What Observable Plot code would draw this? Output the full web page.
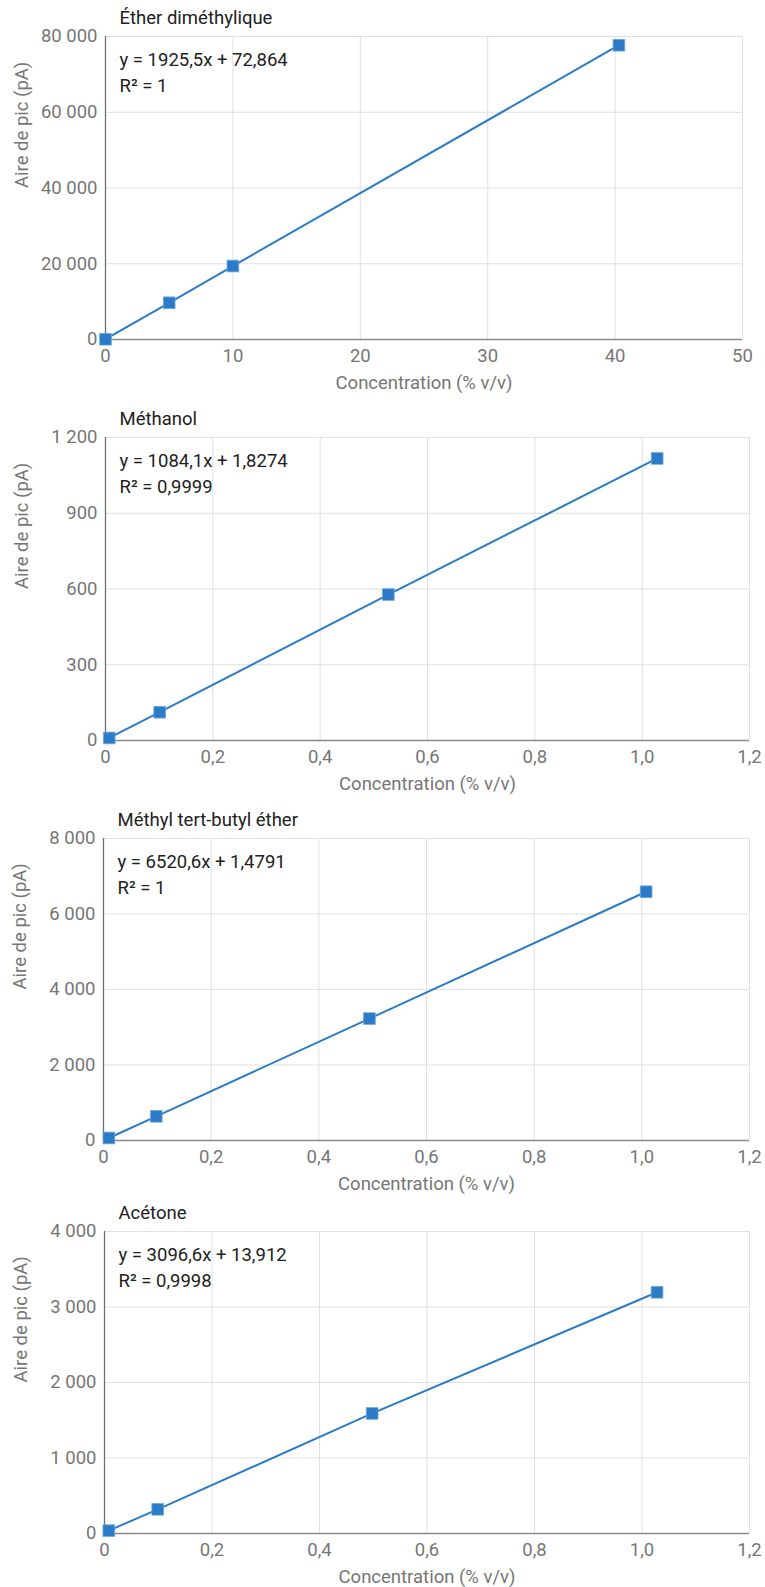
<!DOCTYPE html>
<html>
<head>
<meta charset="utf-8">
<script src="https://cdn.jsdelivr.net/npm/d3@7"></script>
<script src="https://cdn.jsdelivr.net/npm/@observablehq/plot@0.6"></script>
<style>
  html, body { margin: 0; padding: 0; background: #ffffff; }
  #charts svg { display: block; }
</style>
</head>
<body>
<div id="charts"></div>
<script>
// ---- Data ----
const titles = ["Éther diméthylique", "Méthanol", "Méthyl tert-butyl éther", "Acétone"];
const equations = ["y = 1925,5x + 72,864", "y = 1084,1x + 1,8274", "y = 6520,6x + 1,4791", "y = 3096,6x + 13,912"];
const r2Labels = ["R² = 1", "R² = 0,9999", "R² = 1", "R² = 0,9998"];
const xAxisLabel = "Concentration (% v/v)";
const yAxisLabel = "Aire de pic (pA)";

const dmeConc = [0, 5, 10, 40.3];
const dmeArea = [70, 9700, 19400, 77700];
const methanolConc = [0.007, 0.101, 0.527, 1.028];
const methanolArea = [10, 112, 578, 1117];
const mtbeConc = [0.01, 0.098, 0.494, 1.008];
const mtbeArea = [66, 640, 3230, 6590];
const acetoneConc = [0.008, 0.099, 0.498, 1.028];
const acetoneArea = [38, 320, 1590, 3195];

const xTicksDme = [0, 10, 20, 30, 40, 50];
const xTicksFrac = [0, 0.2, 0.4, 0.6, 0.8, 1.0, 1.2];
const yTicksDme = [0, 20000, 40000, 60000, 80000];
const yTicksMethanol = [0, 300, 600, 900, 1200];
const yTicksMtbe = [0, 2000, 4000, 6000, 8000];
const yTicksAcetone = [0, 1000, 2000, 3000, 4000];

// ---- Layout / style ----
const locale = d3.formatLocale({decimal: ",", thousands: " ", grouping: [3], currency: ["", ""]});
const fmtInt = locale.format(",d");
const fmtDec1 = locale.format(".1f");
const fmtDec = d => (d === 0 ? "0" : fmtDec1(d));

const series = [
  {x: dmeConc, y: dmeArea, xTicks: xTicksDme, yTicks: yTicksDme, xFmt: fmtInt},
  {x: methanolConc, y: methanolArea, xTicks: xTicksFrac, yTicks: yTicksMethanol, xFmt: fmtDec},
  {x: mtbeConc, y: mtbeArea, xTicks: xTicksFrac, yTicks: yTicksMtbe, xFmt: fmtDec},
  {x: acetoneConc, y: acetoneArea, xTicks: xTicksFrac, yTicks: yTicksAcetone, xFmt: fmtDec}
];
const layouts = [
  {height: 398, top: 36, bottom: 59, left: 105, right: 23},
  {height: 397, top: 39, bottom: 55, left: 105, right: 16},
  {height: 395, top: 43, bottom: 50, left: 103, right: 16},
  {height: 397, top: 41, bottom: 54, left: 104, right: 16}
];

const blue = "#2b7bc6";
const gridColor = "#e0e0e0";
const tickColor = "#767676";
const fs = 18.5;

const container = document.getElementById("charts");
series.forEach((s, i) => {
  const L = layouts[i];
  const data = s.x.map((xv, j) => ({x: xv, y: s.y[j]}));
  const xDom = [s.xTicks[0], s.xTicks[s.xTicks.length - 1]];
  const yDom = [s.yTicks[0], s.yTicks[s.yTicks.length - 1]];
  const chart = Plot.plot({
    width: 765,
    height: L.height,
    marginTop: L.top,
    marginBottom: L.bottom,
    marginLeft: L.left,
    marginRight: L.right,
    style: {fontFamily: "Roboto, sans-serif", fontSize: fs + "px", color: tickColor, background: "#ffffff", overflow: "visible"},
    x: {domain: xDom, ticks: s.xTicks, tickFormat: s.xFmt, tickSize: 0, tickPadding: 9, label: null},
    y: {domain: yDom, ticks: s.yTicks, tickFormat: fmtInt, tickSize: 0, tickPadding: 8, label: null},
    marks: [
      Plot.ruleX(s.xTicks, {stroke: gridColor, strokeWidth: 1}),
      Plot.ruleY(s.yTicks, {stroke: gridColor, strokeWidth: 1}),
      Plot.ruleX([xDom[0]], {stroke: "#6e6e6e", strokeWidth: 1.3}),
      Plot.ruleY([yDom[0]], {stroke: "#8a8a8a", strokeWidth: 1.5}),
      Plot.line(data, {x: "x", y: "y", stroke: blue, strokeWidth: 2}),
      Plot.dot(data, {x: "x", y: "y", symbol: "square", r: 6.6, fill: blue, stroke: "#6ea6dc", strokeWidth: 0.8}),
      Plot.text([titles[i]], {frameAnchor: "top-left", dx: 14, dy: -26, fontSize: fs, fill: "#212121"}),
      Plot.text([equations[i] + "\n" + r2Labels[i]], {frameAnchor: "top-left", dx: 14, dy: 11, fontSize: fs, lineHeight: 1.42, fill: "#212121"}),
      Plot.text([xAxisLabel], {frameAnchor: "bottom", dy: 44, lineAnchor: "middle", fontSize: fs, fill: tickColor}),
      Plot.text([yAxisLabel], {frameAnchor: "left", dx: -83, rotate: -90, lineAnchor: "middle", fontSize: fs, fill: tickColor})
    ]
  });
  container.appendChild(chart);
});
</script>
</body>
</html>
